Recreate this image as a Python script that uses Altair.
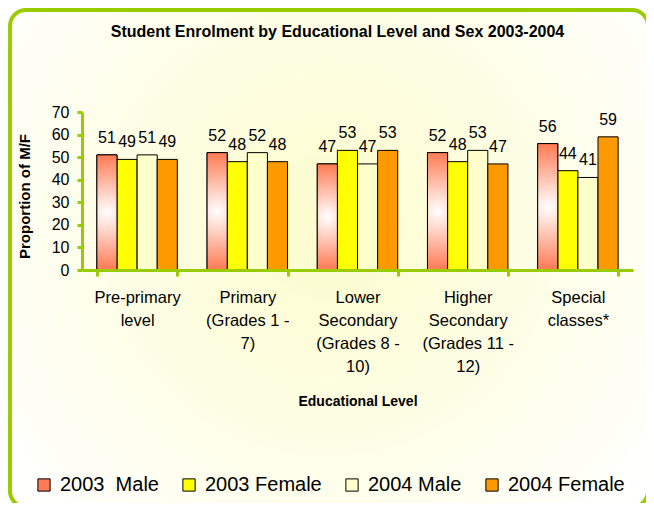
import altair as alt
import pandas as pd

categories = [
    "Pre-primary\nlevel",
    "Primary\n(Grades 1 -\n7)",
    "Lower\nSecondary\n(Grades 8 -\n10)",
    "Higher\nSecondary\n(Grades 11 -\n12)",
    "Special\nclasses*",
]
series = ["2003  Male", "2003 Female", "2004 Male", "2004 Female"]
male_2003 = [51, 52, 47, 52, 56]
female_2003 = [49, 48, 53, 48, 44]
male_2004 = [51, 52, 47, 53, 41]
female_2004 = [49, 48, 53, 47, 59]
colors = ["#ff7a55", "#ffff00", "#ffffcc", "#ff9900"]

rows = []
for s, vals in zip(series, [male_2003, female_2003, male_2004, female_2004]):
    for c, v in zip(categories, vals):
        rows.append({"level": c, "series": s, "value": v})
df = pd.DataFrame(rows)

FONT = "Liberation Sans"
GREEN = "#99cc00"

frame = alt.Chart(alt.Data(values=[{}])).mark_rect(
    fill=alt.RadialGradient(
        gradient="radial", x1=0.5, y1=0.45, r1=0, x2=0.5, y2=0.45, r2=0.65,
        stops=[alt.GradientStop(offset=0, color="#fcfccc"),
               alt.GradientStop(offset=1, color="#ffffff")]),
    stroke=GREEN, strokeWidth=4, cornerRadius=16,
).encode(x=alt.value(-72), x2=alt.value(566), y=alt.value(-102), y2=alt.value(395))

base = alt.Chart(df).encode(
    x=alt.X("level:N", sort=categories,
            scale=alt.Scale(paddingInner=0.27, paddingOuter=0.135),
            axis=alt.Axis(title="Educational Level", labelAngle=0, zindex=1,
                          labelExpr="split(datum.label, '\\n')",
                          labelFontSize=16.5, labelLineHeight=23, labelPadding=13,
                          labelColor="black", labelFont=FONT,
                          domainColor=GREEN, domainWidth=3,
                          tickColor=GREEN, tickWidth=3, tickSize=6, tickBand="extent",
                          titleFont=FONT, titleFontSize=14, titleFontWeight="bold",
                          titleColor="black", titleY=131, titleBaseline="middle")),
    xOffset=alt.XOffset("series:N", sort=series,
                        scale=alt.Scale(paddingInner=0, paddingOuter=0)),
    y=alt.Y("value:Q", scale=alt.Scale(domain=[0, 70]),
            axis=alt.Axis(title="Proportion of M/F", values=list(range(0, 71, 10)),
                          grid=False, labelFontSize=16, labelFont=FONT, labelColor="black",
                          labelPadding=8, domainColor=GREEN, domainWidth=3, zindex=1,
                          tickColor=GREEN, tickWidth=3, tickSize=5,
                          titleFont=FONT, titleFontSize=15, titleFontWeight="bold",
                          titleColor="black", titleX=-58, titleY=84,
                          titleBaseline="middle", titleAlign="center")),
)

bars = base.mark_bar(stroke="black", strokeWidth=1).encode(
    color=alt.Color("series:N", sort=series,
                    scale=alt.Scale(domain=series, range=colors),
                    legend=alt.Legend(title=None, orient="none", legendX=-48, legendY=363,
                                      direction="horizontal", columns=4, columnPadding=20,
                                      symbolType="square", symbolSize=150,
                                      symbolStrokeColor="black", symbolStrokeWidth=1,
                                      labelFontSize=20, labelFont=FONT, labelColor="black",
                                      labelOffset=6, labelLimit=300,
                                      labelExpr="replace(datum.label, '  ', '\u00a0 ')"))
)

grad_bars = base.transform_filter(alt.datum.series == series[0]).mark_bar(
    fill=alt.RadialGradient(
        gradient="radial", x1=0.5, y1=0.5, r1=0, x2=0.5, y2=0.5, r2=0.62,
        stops=[alt.GradientStop(offset=0, color="#ffffff"),
               alt.GradientStop(offset=1, color="#ff5a2a")]),
    stroke="black", strokeWidth=1,
)

labels = base.mark_text(baseline="bottom", dy=-9, fontSize=16, font=FONT, color="black").encode(
    text="value:Q")

chart = alt.layer(frame, bars, grad_bars, labels).properties(
    width=551, height=158,
    autosize=alt.AutoSizeParams(type="none"),
    padding={"left": 74, "top": 104, "right": 13, "bottom": 233},
    title=alt.TitleParams("Student Enrolment by Educational Level and Sex 2003-2004",
                          font=FONT, fontSize=16, fontWeight="bold", color="black",
                          anchor="middle", offset=-32, dx=-20),
).configure_view(stroke=None).configure(background="white")

chart.save("out.html", embed_options={"renderer": "svg", "actions": False})
